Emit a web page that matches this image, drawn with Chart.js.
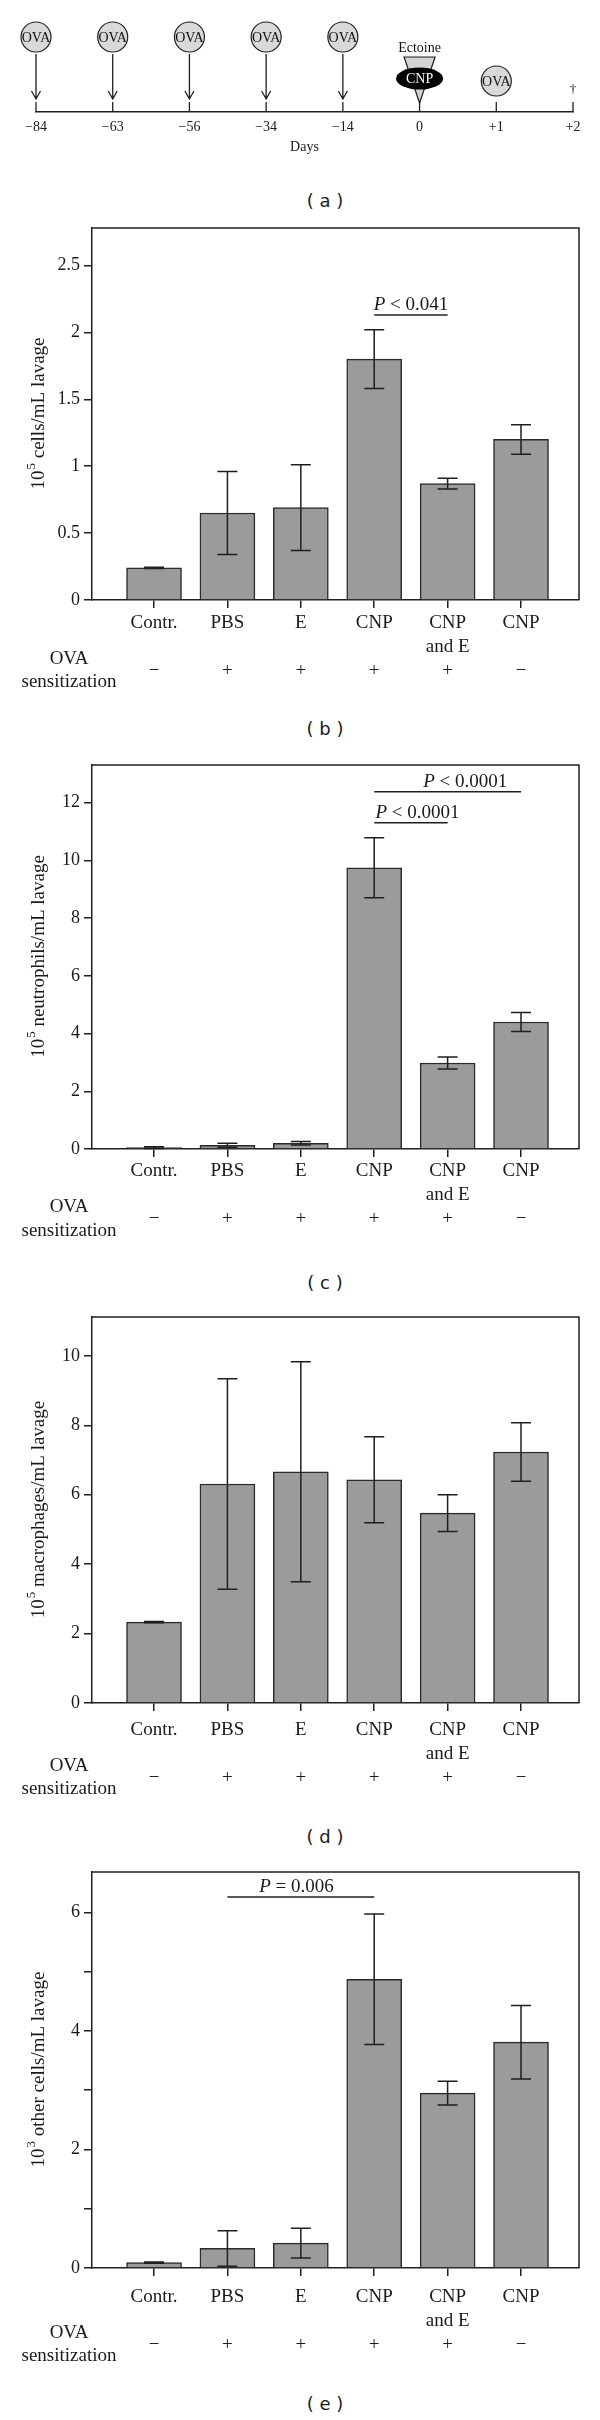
<!DOCTYPE html>
<html><head><meta charset="utf-8">
<script src="https://cdn.jsdelivr.net/npm/chart.js@4.4.1/dist/chart.umd.min.js"></script>
<style>
html,body{margin:0;padding:0;background:#fff}
body{position:relative;width:600px;height:2420px;overflow:hidden}
canvas{position:absolute;left:0}
.panel{position:absolute;left:325px;transform:translate(-50%,-50%);font-family:"DejaVu Sans",sans-serif;font-size:18px;color:#1a1a1a;white-space:pre}
</style></head><body>
<canvas id="ta" width="600" height="175" style="top:0px"></canvas>
<div class="panel" style="top:200px">( a )</div>
<canvas id="cb" width="600" height="490" style="top:210px"></canvas>
<div class="panel" style="top:728px">( b )</div>
<canvas id="cc" width="600" height="504" style="top:745px"></canvas>
<div class="panel" style="top:1282px">( c )</div>
<canvas id="cd" width="600" height="506" style="top:1297px"></canvas>
<div class="panel" style="top:1836px">( d )</div>
<canvas id="ce" width="600" height="516" style="top:1852px"></canvas>
<div class="panel" style="top:2403px">( e )</div>
<script>
// ---------- DATA ----------
const timelineDays = ['\u221284', '\u221263', '\u221256', '\u221234', '\u221214', '0', '+1', '+2'];
const ovaSensitizationDays = ['\u221284', '\u221263', '\u221256', '\u221234', '\u221214'];
const ovaChallengeDay = '+1';
const cnpDay = '0';
const endDay = '+2';

const categories = ['Contr.', 'PBS', 'E', 'CNP', 'CNP and E', 'CNP'];
const ovaSensitization = ['\u2212', '+', '+', '+', '+', '\u2212'];

const cellsMean = [0.24, 0.65, 0.69, 1.80, 0.87, 1.20];
const cellsSem = [0.005, 0.31, 0.32, 0.22, 0.04, 0.11];
const cellsTicks = [0, 0.5, 1, 1.5, 2, 2.5];
const cellsTickLabels = ['0', '0.5', '1', '1.5', '2', '2.5'];
const cellsSig = [[3, 4, 2.13, '< 0.041']];

const neutroMean = [0.05, 0.13, 0.20, 9.74, 2.98, 4.40];
const neutroSem = [0.03, 0.07, 0.06, 1.04, 0.21, 0.33];
const neutroTicks = [0, 2, 4, 6, 8, 10, 12];
const neutroTickLabels = ['0', '2', '4', '6', '8', '10', '12'];
const neutroSig = [[3, 5, 12.37, '< 0.0001'], [3, 4, 11.3, '< 0.0001']];

const macroMean = [2.33, 6.31, 6.66, 6.43, 5.47, 7.23];
const macroSem = [0.02, 3.03, 3.17, 1.24, 0.53, 0.84];
const macroTicks = [0, 2, 4, 6, 8, 10];
const macroTickLabels = ['0', '2', '4', '6', '8', '10'];
const macroSig = [];

const otherMean = [0.09, 0.33, 0.42, 4.87, 2.95, 3.81];
const otherSem = [0.01, 0.30, 0.25, 1.10, 0.20, 0.62];
const otherTicks = [0, 1, 2, 3, 4, 5, 6];
const otherTickLabels = ['0', '', '2', '', '4', '', '6'];
const otherSig = [[1, 3, 6.26, '= 0.006']];

// ---------- STYLE ----------
const INK = '#1f1f1f';
const SERIF = "'Liberation Serif', 'Times New Roman', serif";
Chart.defaults.font.family = SERIF;
Chart.defaults.color = '#1a1a1a';

function font(size, style) { return (style ? style + ' ' : '') + size + 'px ' + SERIF; }

const framePlugin = {
  id: 'frame',
  afterDraw(chart) {
    const {ctx, chartArea: a} = chart;
    ctx.save();
    ctx.strokeStyle = INK; ctx.lineWidth = 1.5;
    ctx.beginPath();
    ctx.moveTo(a.left, a.top); ctx.lineTo(a.right, a.top); ctx.lineTo(a.right, a.bottom);
    ctx.stroke();
    ctx.restore();
  }
};

function makeBarChart(id, p) {
  const data = p.mean.map((v, i) => ({x: i, y: v}));
  const extras = {
    id: 'extras',
    afterDatasetsDraw(chart) {
      const {ctx, scales: {x, y}} = chart;
      ctx.save();
      ctx.strokeStyle = INK; ctx.lineWidth = 1.5;
      p.mean.forEach((m, i) => {
        const px = x.getPixelForValue(i);
        const t = y.getPixelForValue(m + p.sem[i]);
        const b = y.getPixelForValue(m - p.sem[i]);
        ctx.beginPath();
        ctx.moveTo(px, t); ctx.lineTo(px, b);
        ctx.moveTo(px - 10, t); ctx.lineTo(px + 10, t);
        ctx.moveTo(px - 10, b); ctx.lineTo(px + 10, b);
        ctx.stroke();
      });
      // significance brackets
      p.sig.forEach((s, k) => {
        const x0 = x.getPixelForValue(s[0]), x1 = x.getPixelForValue(s[1]);
        const ly = y.getPixelForValue(s[2]);
        ctx.beginPath(); ctx.moveTo(x0, ly); ctx.lineTo(x1, ly); ctx.stroke();
        ctx.font = font(19, 'italic');
        const wP = ctx.measureText('P').width;
        ctx.font = font(19);
        const rest = ' ' + s[3];
        const wR = ctx.measureText(rest).width;
        const cx = x0 + (p.sigAt[k]) * (x1 - x0);
        const sx = cx - (wP + wR) / 2;
        ctx.fillStyle = '#1a1a1a'; ctx.textBaseline = 'alphabetic'; ctx.textAlign = 'left';
        ctx.font = font(19, 'italic'); ctx.fillText('P', sx, ly - 5);
        ctx.font = font(19); ctx.fillText(rest, sx + wP, ly - 5);
      });
      ctx.restore();
    },
    afterDraw(chart) {
      const {ctx, chartArea: a} = chart;
      ctx.save();
      ctx.fillStyle = '#1a1a1a';
      // y title with superscript
      ctx.translate(38, (a.top + a.bottom) / 2);
      ctx.rotate(-Math.PI / 2);
      ctx.textBaseline = 'middle'; ctx.textAlign = 'left';
      ctx.font = font(19); const w1 = ctx.measureText(p.title[0]).width;
      ctx.font = font(13); const w2 = ctx.measureText(p.title[1]).width;
      ctx.font = font(19); const w3 = ctx.measureText(p.title[2]).width;
      let sx = -(w1 + w2 + w3) / 2;
      ctx.font = font(19); ctx.fillText(p.title[0], sx, 1);
      ctx.font = font(13); ctx.fillText(p.title[1], sx + w1 + 1, -6);
      ctx.font = font(19); ctx.fillText(p.title[2], sx + w1 + w2 + 1, 1);
      ctx.restore();
      // OVA sensitization row label
      const signY = a.bottom + 8 + p.labelPad + 12 + 48;
      ctx.save();
      ctx.fillStyle = '#1a1a1a'; ctx.font = font(19);
      ctx.textAlign = 'center'; ctx.textBaseline = 'middle';
      ctx.fillText('OVA', 69, signY - 12);
      ctx.fillText('sensitization', 69, signY + 11.5);
      ctx.restore();
    }
  };
  return new Chart(document.getElementById(id), {
    type: 'bar',
    data: {datasets: [{
      data,
      backgroundColor: '#9b9b9b', borderColor: '#2b2b2b', borderWidth: 1.5,
      barThickness: 55
    }]},
    options: {
      responsive: false, animation: false, devicePixelRatio: 1,
      layout: {padding: {top: p.topPad, right: 21, left: 0, bottom: 0}},
      plugins: {legend: {display: false}, tooltip: {enabled: false}},
      scales: {
        x: {
          type: 'linear', min: -0.845, max: 5.79, offset: false,
          afterBuildTicks: s => { s.ticks = categories.map((c, i) => ({value: i})); },
          afterFit: s => { s.height = 100; s.paddingLeft = 0; s.paddingRight = 0; },
          grid: {offset: false, drawOnChartArea: false, drawTicks: true, tickLength: 8, color: INK, lineWidth: 1.5},
          border: {display: true, color: INK, width: 1.5},
          ticks: {
            autoSkip: false, maxRotation: 0, minRotation: 0, padding: p.labelPad,
            font: {size: 19, lineHeight: 24 / 19}, color: '#1a1a1a',
            callback: (v, i) => {
              const parts = categories[i].split(' and ');
              return [parts[0], parts[1] ? 'and ' + parts[1] : '', ovaSensitization[i]];
            }
          }
        },
        y: {
          min: 0, max: p.yMax,
          afterBuildTicks: s => { s.ticks = p.ticks.map(v => ({value: v})); },
          afterFit: s => { s.width = 92; s.paddingTop = 0; s.paddingBottom = 0; },
          grid: {drawOnChartArea: false, drawTicks: true, tickLength: 8, color: INK, lineWidth: 1.5},
          border: {display: true, color: INK, width: 1.5},
          ticks: {padding: 4, font: {size: 18}, color: '#1a1a1a', callback: (v, i) => p.tickLabels[i]}
        }
      }
    },
    plugins: [framePlugin, extras]
  });
}

// ---------- TIMELINE (a) ----------
const timelinePlugin = {
  id: 'timeline',
  afterDraw(chart) {
    const {ctx, chartArea: a, scales: {x}} = chart;
    const base = a.bottom;
    const px = d => x.getPixelForValue(timelineDays.indexOf(d));
    ctx.save();
    ctx.strokeStyle = INK; ctx.lineWidth = 1.3;
    timelineDays.forEach(d => {
      ctx.beginPath(); ctx.moveTo(px(d), base - 10); ctx.lineTo(px(d), base); ctx.stroke();
    });
    function ova(cx, cy) {
      ctx.beginPath(); ctx.arc(cx, cy, 15, 0, Math.PI * 2);
      ctx.fillStyle = '#d9d9d9'; ctx.fill();
      ctx.lineWidth = 1.2; ctx.strokeStyle = INK; ctx.stroke();
      ctx.fillStyle = '#111'; ctx.font = font(14);
      ctx.textAlign = 'center'; ctx.textBaseline = 'middle';
      ctx.fillText('OVA', cx, cy + 1, 29);
    }
    ovaSensitizationDays.forEach(d => {
      const cx = px(d);
      ova(cx, base - 75);
      ctx.strokeStyle = INK; ctx.lineWidth = 1.3;
      ctx.beginPath();
      ctx.moveTo(cx, base - 58); ctx.lineTo(cx, base - 13);
      ctx.moveTo(cx - 4.5, base - 21); ctx.lineTo(cx, base - 13); ctx.lineTo(cx + 4.5, base - 21);
      ctx.stroke();
    });
    ova(px(ovaChallengeDay), base - 31);
    // Ectoine + CNP at day 0
    const c0 = px(cnpDay);
    ctx.fillStyle = '#111'; ctx.font = font(14); ctx.textAlign = 'center'; ctx.textBaseline = 'middle';
    ctx.fillText('Ectoine', c0, base - 64);
    ctx.beginPath();
    ctx.moveTo(c0 - 15.5, base - 55); ctx.lineTo(c0 + 15.5, base - 55); ctx.lineTo(c0, base - 9); ctx.closePath();
    ctx.fillStyle = '#d4d4d4'; ctx.fill(); ctx.strokeStyle = INK; ctx.lineWidth = 1.2; ctx.stroke();
    ctx.beginPath(); ctx.ellipse(c0, base - 33.5, 23.5, 11, 0, 0, Math.PI * 2);
    ctx.fillStyle = '#000'; ctx.fill();
    ctx.fillStyle = '#fff'; ctx.font = font(14); ctx.fillText('CNP', c0, base - 33);
    // end dagger
    ctx.fillStyle = '#111'; ctx.font = font(13);
    ctx.fillText('\u2020', px(endDay), base - 22);
    ctx.restore();
  }
};

new Chart(document.getElementById('ta'), {
  type: 'line',
  data: {labels: timelineDays, datasets: []},
  options: {
    responsive: false, animation: false, devicePixelRatio: 1,
    layout: {padding: {left: 36, right: 27, top: 0, bottom: 13}},
    plugins: {legend: {display: false}, tooltip: {enabled: false}},
    scales: {
      x: {
        type: 'category', offset: false,
        grid: {display: false, drawTicks: false},
        border: {display: true, color: INK, width: 1.5},
        afterFit: s => { s.height = 50; s.paddingLeft = 0; s.paddingRight = 0; },
        ticks: {padding: 6.6, font: {size: 14}, color: '#1a1a1a', autoSkip: false, maxRotation: 0},
        title: {display: true, text: 'Days', font: {size: 14}, color: '#1a1a1a', padding: {top: 0, bottom: 6.6}}
      },
      y: {display: false, min: 0, max: 1}
    }
  },
  plugins: [timelinePlugin]
});

makeBarChart('cb', {mean: cellsMean, sem: cellsSem, ticks: cellsTicks, tickLabels: cellsTickLabels,
  yMax: 2.78, title: ['10', '5', ' cells/mL lavage'], sig: cellsSig, sigAt: [0.5], labelPad: 2.7, topPad: 18});
makeBarChart('cc', {mean: neutroMean, sem: neutroSem, ticks: neutroTicks, tickLabels: neutroTickLabels,
  yMax: 13.3, title: ['10', '5', ' neutrophils/mL lavage'], sig: neutroSig, sigAt: [0.62, 0.59], labelPad: 2.4, topPad: 20});
makeBarChart('cd', {mean: macroMean, sem: macroSem, ticks: macroTicks, tickLabels: macroTickLabels,
  yMax: 11.12, title: ['10', '5', ' macrophages/mL lavage'], sig: macroSig, sigAt: [], labelPad: 6.6, topPad: 20});
makeBarChart('ce', {mean: otherMean, sem: otherSem, ticks: otherTicks, tickLabels: otherTickLabels,
  yMax: 6.68, title: ['10', '3', ' other cells/mL lavage'], sig: otherSig, sigAt: [0.47], labelPad: 9, topPad: 20});
</script>
</body></html>
